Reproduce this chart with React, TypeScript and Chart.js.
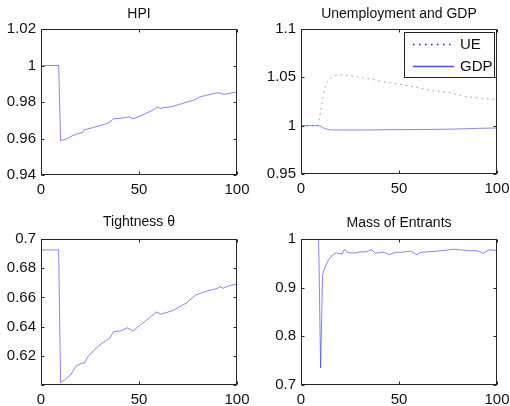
import React, { useEffect, useRef } from "react";
import { Chart, registerables } from "chart.js";
Chart.register(...registerables);

// ---------- data ----------
const xTickStep = 50;

const hpiX = [0, 9, 10, 13, 16, 19, 21, 22, 25, 27, 30, 33, 35, 37, 40, 43, 45, 47, 50, 53, 57, 59, 61, 63, 67, 70, 74, 78, 81, 85, 88, 91, 93, 96, 100];
const hpiY = [1, 1, 0.9588, 0.9598, 0.9615, 0.9628, 0.963, 0.9648, 0.9655, 0.9662, 0.967, 0.968, 0.969, 0.9708, 0.971, 0.9715, 0.9718, 0.9708, 0.972, 0.9735, 0.9755, 0.9772, 0.9765, 0.977, 0.9775, 0.9785, 0.9798, 0.981, 0.9828, 0.9838, 0.9847, 0.985, 0.9842, 0.9847, 0.9855];

const ueX = [0, 8, 9, 10, 11, 12, 13, 15, 17, 20, 25, 30, 35, 42, 50, 59, 67, 76, 84, 93, 100];
const ueY = [1, 1, 1.002, 1.015, 1.028, 1.038, 1.044, 1.049, 1.0515, 1.0527, 1.0518, 1.05, 1.0485, 1.0455, 1.043, 1.0397, 1.0362, 1.034, 1.03, 1.0283, 1.0268];

const gdpX = [0, 8, 10, 12, 15, 20, 30, 40, 50, 60, 70, 80, 90, 100];
const gdpY = [1, 1, 0.9995, 0.997, 0.9957, 0.9955, 0.9955, 0.9957, 0.9959, 0.996, 0.9962, 0.9966, 0.9972, 0.9976];

const thetaX = [0, 9, 10, 12, 15, 18, 21, 22, 24, 27, 31, 35, 37, 41, 44, 47, 50, 54, 58, 59, 61, 65, 68, 74, 79, 84, 88, 90, 91, 93, 96, 100];
const thetaY = [0.6925, 0.6925, 0.6017, 0.6035, 0.6068, 0.6132, 0.615, 0.615, 0.6195, 0.6238, 0.6285, 0.632, 0.6365, 0.6372, 0.6392, 0.637, 0.6404, 0.6445, 0.649, 0.65, 0.6485, 0.65, 0.6515, 0.656, 0.6617, 0.664, 0.6655, 0.666, 0.6674, 0.6663, 0.668, 0.6693];

const massX = [0, 9, 10, 11, 12, 14, 16, 18, 20, 21, 22, 24, 27, 30, 33, 36, 38, 42, 45, 48, 52, 56, 59, 61, 64, 68, 72, 78, 82, 86, 90, 93, 96, 100];
const massY = [1, 1, 0.735, 0.925, 0.94, 0.957, 0.967, 0.9715, 0.97, 0.969, 0.978, 0.972, 0.971, 0.9735, 0.9735, 0.978, 0.971, 0.973, 0.968, 0.9725, 0.973, 0.975, 0.968, 0.9725, 0.9735, 0.9745, 0.976, 0.979, 0.9775, 0.976, 0.976, 0.971, 0.978, 0.976];

const titles = ["HPI", "Unemployment and GDP", "Tightness \u03b8", "Mass of Entrants"];
const legendLabels = ["UE", "GDP"];

// ---------- styles ----------
const FONT = "'Liberation Sans', Arial, sans-serif";
const LINE = "rgba(0,0,255,0.48)";
const AXIS = "#262626";

const pts = (xs: number[], ys: number[]) => xs.map((x, i) => ({ x, y: ys[i] }));
const fmt = (v: number) => String(+(+v).toFixed(4));

type PanelDef = {
  left: number; top: number; w: number; h: number;
  aL: number; aR: number; aT: number; aB: number;
  title: string; titleY: number;
  yMin: number; yMax: number; yStep: number; hideMin?: boolean;
  datasets: any[];
  legend?: boolean;
};

const framePlugin = {
  id: "frame",
  afterDraw(chart: any) {
    const { ctx, chartArea: a } = chart;
    const xs = chart.scales.x, ys = chart.scales.y;
    ctx.save();
    ctx.strokeStyle = AXIS;
    ctx.lineWidth = 1;
    const L = Math.round(a.left) + 0.5, R = Math.round(a.right) - 0.5;
    const T = Math.round(a.top) + 0.5, B = Math.round(a.bottom) - 0.5;
    ctx.strokeRect(L, T, R - L, B - T);
    const tl = 3;
    ctx.beginPath();
    xs.ticks.forEach((t: any) => {
      const px = Math.round(xs.getPixelForValue(t.value)) + 0.5;
      ctx.moveTo(px, B); ctx.lineTo(px, B - tl);
      ctx.moveTo(px, T); ctx.lineTo(px, T + tl);
    });
    ys.ticks.forEach((t: any) => {
      const py = Math.round(ys.getPixelForValue(t.value)) + 0.5;
      ctx.moveTo(L, py); ctx.lineTo(L + tl, py);
      ctx.moveTo(R, py); ctx.lineTo(R - tl, py);
    });
    ctx.stroke();
    // title
    const o = chart.options.plugins.panelInfo;
    ctx.fillStyle = "#111";
    ctx.font = `14px ${FONT}`;
    ctx.textAlign = "center";
    ctx.textBaseline = "middle";
    ctx.fillText(o.title, (a.left + a.right) / 2, o.titleY);
    if (o.legend) {
      const bx = 149.5, by = 32.5, bw = 90, bh = 45;
      ctx.fillStyle = "#fff";
      ctx.fillRect(bx, by, bw, bh);
      ctx.strokeStyle = "#222";
      ctx.strokeRect(bx, by, bw, bh);
      const rows = [44.5, 66.5];
      ctx.lineWidth = 1.3;
      ctx.strokeStyle = "rgba(0,0,255,0.9)";
      ctx.setLineDash([1.5, 4.5]);
      ctx.beginPath(); ctx.moveTo(158, rows[0]); ctx.lineTo(199, rows[0]); ctx.stroke();
      ctx.setLineDash([]);
      ctx.strokeStyle = "rgba(0,0,255,0.7)";
      ctx.beginPath(); ctx.moveTo(158, rows[1]); ctx.lineTo(199, rows[1]); ctx.stroke();
      ctx.fillStyle = "#111";
      ctx.textAlign = "left";
      ctx.font = `15px ${FONT}`;
      ctx.fillText(legendLabels[0], 205, rows[0] + 0.5);
      ctx.fillText(legendLabels[1], 205, rows[1] + 0.5);
    }
    ctx.restore();
  },
};

function Panel({ d }: { d: PanelDef }) {
  const ref = useRef<HTMLCanvasElement>(null);
  useEffect(() => {
    const chart = new Chart(ref.current!, {
      type: "line",
      data: { datasets: d.datasets },
      options: {
        animation: false,
        responsive: false,
        devicePixelRatio: 1,
        layout: { padding: { left: 0, top: d.aT, right: d.w - d.aR, bottom: 0 } },
        plugins: {
          legend: { display: false },
          title: { display: false },
          tooltip: { enabled: false },
          panelInfo: { title: d.title, titleY: d.titleY, legend: !!d.legend },
        } as any,
        elements: { point: { radius: 0 }, line: { tension: 0 } },
        scales: {
          x: {
            type: "linear",
            min: 0, max: 100,
            grid: { display: false, drawTicks: false },
            border: { display: false },
            ticks: { stepSize: xTickStep, color: "#111", font: { family: FONT, size: 15 }, padding: 6, maxRotation: 0, autoSkip: false, callback: (v: any) => fmt(v) },
            afterFit: (s: any) => { s.height = d.h - d.aB; s.paddingLeft = 0; s.paddingRight = 0; },
          },
          y: {
            type: "linear",
            min: d.yMin, max: d.yMax,
            grid: { display: false, drawTicks: false },
            border: { display: false },
            ticks: {
              stepSize: d.yStep, color: "#111", font: { family: FONT, size: 15 }, padding: 5, autoSkip: false,
              callback: (v: any) => (d.hideMin && Math.abs(v - d.yMin) < 1e-9 ? "" : fmt(v)),
            },
            afterFit: (s: any) => { s.width = d.aL; s.paddingTop = 0; s.paddingBottom = 0; },
          },
        },
      },
      plugins: [framePlugin],
    });
    return () => chart.destroy();
  }, []);
  return (
    <canvas
      ref={ref}
      width={d.w}
      height={d.h}
      style={{ position: "absolute", left: d.left, top: d.top, width: d.w, height: d.h }}
    />
  );
}

const solid = (data: any) => ({ data, borderColor: LINE, borderWidth: 1, fill: false });

const panels: PanelDef[] = [
  {
    left: 0, top: 0, w: 255, h: 200, aL: 41, aR: 237, aT: 29, aB: 175,
    title: titles[0], titleY: 14, yMin: 0.94, yMax: 1.02, yStep: 0.02,
    datasets: [solid(pts(hpiX, hpiY))],
  },
  {
    left: 255, top: 0, w: 255, h: 200, aL: 46, aR: 242, aT: 29, aB: 174,
    title: titles[1], titleY: 14, yMin: 0.95, yMax: 1.1, yStep: 0.05, legend: true,
    datasets: [
      { ...solid(pts(ueX, ueY)), borderDash: [1.5, 4], borderColor: "rgba(0,0,255,0.45)" },
      solid(pts(gdpX, gdpY)),
    ],
  },
  {
    left: 0, top: 200, w: 255, h: 206, aL: 41, aR: 237, aT: 39, aB: 185,
    title: titles[2], titleY: 22, yMin: 0.6, yMax: 0.7, yStep: 0.02, hideMin: true,
    datasets: [solid(pts(thetaX, thetaY))],
  },
  {
    left: 255, top: 200, w: 255, h: 206, aL: 46, aR: 242, aT: 39, aB: 185,
    title: titles[3], titleY: 23, yMin: 0.7, yMax: 1, yStep: 0.1,
    datasets: [solid(pts(massX, massY))],
  },
];

export default function App() {
  return (
    <div style={{ position: "absolute", left: 0, top: 0, width: 510, height: 406, background: "#fff" }}>
      {panels.map((p, i) => (
        <Panel key={i} d={p} />
      ))}
    </div>
  );
}
